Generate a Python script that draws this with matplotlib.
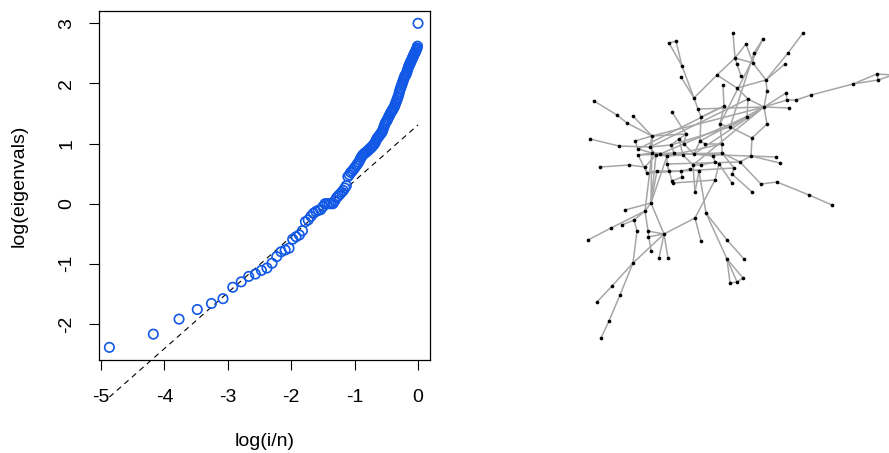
import numpy as np
import matplotlib
matplotlib.use("Agg")
import matplotlib.pyplot as plt

plt.rcParams['font.family'] = ['Liberation Sans', 'DejaVu Sans']

# eigenvalue plot: sorted log eigenvalues vs log(i/n)
n = 130
log_eig = [
    -2.39, -2.17, -1.92, -1.76, -1.66, -1.58, -1.39, -1.30, -1.21, -1.17,
    -1.11, -1.07, -0.99, -0.88, -0.80, -0.77, -0.74, -0.59, -0.55, -0.52,
    -0.45, -0.30, -0.27, -0.21, -0.16, -0.13, -0.11, -0.10, -0.05, 0.00,
    0.00, 0.00, 0.00, 0.00, 0.05, 0.10, 0.13, 0.16, 0.19, 0.22,
    0.26, 0.30, 0.45, 0.48, 0.52, 0.54, 0.57, 0.60, 0.63, 0.66,
    0.69, 0.73, 0.77, 0.80, 0.82, 0.84, 0.85, 0.87, 0.88, 0.90,
    0.92, 0.93, 0.95, 0.97, 0.99, 1.01, 1.05, 1.08, 1.10, 1.12,
    1.14, 1.16, 1.18, 1.20, 1.24, 1.28, 1.32, 1.35, 1.37, 1.39,
    1.42, 1.45, 1.47, 1.50, 1.52, 1.54, 1.56, 1.58, 1.60, 1.63,
    1.66, 1.69, 1.72, 1.75, 1.78, 1.82, 1.86, 1.90, 1.93, 1.96,
    1.99, 2.02, 2.05, 2.08, 2.11, 2.13, 2.14, 2.16, 2.19, 2.22,
    2.25, 2.28, 2.30, 2.32, 2.34, 2.36, 2.38, 2.40, 2.42, 2.44,
    2.46, 2.48, 2.50, 2.51, 2.53, 2.55, 2.57, 2.59, 2.62, 3.00,
]
fit_intercept = 1.31
fit_slope = 0.93

# network layout (pixel-like coords)
node_x = [733, 763, 803, 669, 676, 746, 754, 788, 735, 737, 753, 785, 682, 717, 741, 681,
          766, 877, 878, 853, 723, 737, 767, 694, 748, 786, 811, 787, 796, 594, 724, 698,
          764, 789, 672, 617, 633, 747, 701, 627, 720, 767, 730, 686, 652, 752, 590, 679,
          635, 700, 619, 705, 671, 684, 722, 638, 650, 652, 656, 660, 667, 674, 638, 683,
          694, 713, 722, 751, 776, 780, 715, 719, 740, 600, 629, 645, 667, 693, 701, 647,
          657, 669, 681, 690, 699, 734, 672, 732, 682, 673, 715, 732, 761, 777, 695, 752,
          809, 832, 651, 625, 645, 634, 622, 611, 588, 637, 648, 648, 664, 651, 659, 668,
          695, 706, 701, 727, 727, 744, 730, 737, 743, 633, 612, 620, 597, 609, 601, 893]
node_y = [33, 39, 33, 43, 41, 44, 53, 53, 58, 64, 63, 64, 66, 75, 76, 77,
          80, 74, 80, 84, 85, 88, 91, 98, 99, 93, 95, 100, 100, 101, 106, 109,
          107, 108, 112, 115, 116, 117, 117, 123, 124, 124, 127, 134, 136, 138, 139, 139,
          141, 141, 146, 144, 145, 144, 144, 149, 147, 153, 155, 154, 156, 153, 155, 155,
          154, 156, 153, 156, 157, 163, 162, 164, 162, 167, 165, 167, 164, 165, 165, 173,
          171, 171, 171, 169, 171, 168, 181, 174, 177, 183, 180, 183, 184, 182, 192, 192,
          195, 205, 203, 210, 211, 220, 225, 228, 240, 231, 231, 237, 234, 251, 258, 258,
          218, 213, 241, 240, 259, 259, 283, 282, 278, 263, 286, 295, 302, 321, 338, 75]
edges = [
    (19, 17), (19, 18), (17, 18), (17, 127), (18, 127), (19, 26), (26, 28), (28, 27),
    (27, 32), (25, 27), (25, 32), (33, 32), (16, 22), (22, 32), (32, 41), (41, 45),
    (45, 67), (45, 42), (16, 21), (16, 7), (7, 2), (11, 16), (10, 16), (1, 6), (6, 10),
    (6, 42), (0, 8), (5, 8), (5, 10), (8, 10), (8, 9), (9, 14), (8, 13), (13, 21),
    (13, 23), (21, 24), (20, 30), (30, 40), (30, 38), (24, 32), (31, 32), (24, 37),
    (37, 42), (40, 42), (40, 54), (54, 66), (54, 51), (51, 49), (49, 38), (38, 31),
    (31, 23), (12, 23), (15, 23), (3, 4), (3, 12), (4, 12), (34, 43), (43, 47), (43, 53),
    (43, 44), (29, 35), (35, 39), (39, 44), (36, 44), (48, 44), (46, 50), (50, 56),
    (73, 74), (74, 75), (44, 56), (44, 57), (48, 55), (55, 57), (56, 58), (57, 59),
    (58, 60), (59, 61), (60, 63), (61, 64), (62, 57), (62, 79), (75, 79), (75, 58),
    (79, 80), (80, 81), (81, 82), (82, 83), (83, 84), (76, 60), (76, 81), (76, 86),
    (86, 89), (86, 88), (88, 82), (63, 77), (77, 78), (78, 70), (70, 71), (71, 90),
    (65, 70), (65, 66), (52, 47), (47, 53), (53, 64), (64, 65), (52, 61), (52, 56),
    (47, 63), (49, 64), (66, 85), (85, 87), (89, 90), (44, 32), (32, 49), (32, 64),
    (32, 77), (1, 40), (55, 30), (56, 24), (60, 54), (62, 66), (57, 67), (79, 85),
    (76, 72), (59, 37), (52, 42), (67, 68), (67, 69), (67, 72), (66, 72), (72, 92),
    (92, 93), (93, 96), (96, 97), (87, 95), (91, 71), (94, 77), (98, 99), (98, 100),
    (100, 103), (103, 104), (100, 101), (101, 105), (105, 121), (98, 108), (106, 108),
    (107, 108), (110, 108), (111, 108), (108, 121), (108, 112), (121, 122), (122, 124),
    (121, 123), (123, 125), (125, 126), (101, 102), (100, 109), (98, 44), (98, 58),
    (98, 60), (98, 80), (100, 57), (112, 114), (113, 115), (115, 117), (113, 116),
    (116, 118), (116, 119), (116, 120), (118, 119), (119, 120), (112, 90), (113, 84),
    (94, 84),
]

W, H = 889, 453
fig = plt.figure(figsize=(W / 100, H / 100), dpi=100)

# left panel
ax = fig.add_axes([98.7 / W, 1 - 360 / H, (430 - 98.7) / W, (360 - 10.7) / H])
idx = np.arange(1, n + 1)
x = np.log(idx / n)
ax.scatter(x, log_eig, s=46, facecolors='none', edgecolors='#1158e6', linewidths=1.2, zorder=3)
xl = np.array([x[0], x[-1]])
ax.plot(xl, fit_intercept + fit_slope * xl, ls=(0, (5, 4)), color='black', lw=0.8, clip_on=False)
ax.set_xlim(-5.036, 0.189)
ax.set_ylim(-2.60, 3.21)
ax.set_xticks([-5, -4, -3, -2, -1, 0])
ax.set_yticks([-2, -1, 0, 1, 2, 3])
ax.set_xticklabels(['-5', '-4', '-3', '-2', '-1', '0'])
ax.set_yticklabels(['-2', '-1', '0', '1', '2', '3'], rotation=90, va='center')
ax.tick_params(direction='out', length=7, width=0.8, labelsize=14)
ax.tick_params(axis='x', pad=14)
ax.tick_params(axis='y', pad=10)
for sp in ax.spines.values():
    sp.set_linewidth(0.9)
ax.set_xlabel('log(i/n)', fontsize=14, labelpad=19)
ax.set_ylabel('log(eigenvals)', fontsize=14, labelpad=22)

# right panel: network
ax2 = fig.add_axes([570 / W, 0, (W - 570) / W, 1])
ax2.set_xlim(570, W)
ax2.set_ylim(H, 0)
ax2.axis('off')
for a, b in edges:
    ax2.plot([node_x[a], node_x[b]], [node_y[a], node_y[b]], color='#a6a6a6', lw=1.1, zorder=1)
ax2.scatter(node_x, node_y, s=7, color='black', zorder=2, linewidths=0)

fig.savefig('out.png', dpi=100)
